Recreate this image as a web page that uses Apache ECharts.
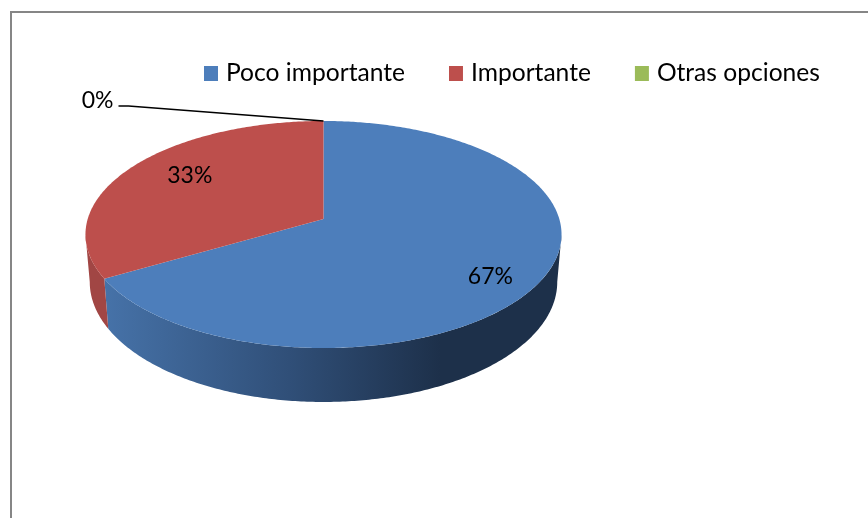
<!DOCTYPE html>
<html>
<head>
<meta charset="utf-8">
<style>html,body{margin:0;padding:0;background:#fff}#c{width:868px;height:518px}</style>
<script src="https://cdn.jsdelivr.net/npm/echarts@6/dist/echarts.min.js"></script>
</head>
<body>
<div id="c"></div>
<script>
var categories = ['Poco importante', 'Importante', 'Otras opciones'];
var values = [66.67, 33.33, 0];
var labels = ['67%', '33%', '0%'];
var colors = ['#4d7ebb', '#bd4f4c', '#9bbb59'];

var FONT = 'Lato';
var CX = 323.5, CY = 219, RX = 235.8, RY = 111.4, K = 0.1365, DEPTH = 46.6, SHRINK = 0.982;
var total = values.reduce(function (a, b) { return a + b; }, 0);
var EXTREME = Math.acos(-K);                 // silhouette angle of the ellipse

function startOf(i) {
  var s = 0;
  for (var j = 0; j < i; j++) s += values[j];
  return s / total * Math.PI * 2;
}
function top3d(t, r) {
  var u = Math.sin(t) * r, v = Math.cos(t) * r, w = 1 + K * v;
  return [CX + RX * u / w, CY - RY * v / w];
}
function low3d(t) {
  var u = Math.sin(t), v = Math.cos(t), w = 1 + K * v;
  return [CX + RX * SHRINK * u / w, CY - RY * v / w + DEPTH / w];
}
function arc(fn, a, b) {
  var pts = [], n = Math.max(2, Math.ceil(Math.abs(b - a) * 90));
  for (var i = 0; i <= n; i++) pts.push(fn(a + (b - a) * i / n, 1));
  return pts;
}
var sideFill = [
  { type: 'linear', x: 105, y: 0, x2: 440, y2: 0, global: true, colorStops: [
    { offset: 0, color: '#4672a8' }, { offset: 0.55, color: '#304f78' }, { offset: 1, color: '#1d304a' }] },
  '#a14644', '#7e9a46'
];
var labelOffset = [[5.5, 14], [12, -4]];

function renderSlice(params, api) {
  var i = params.seriesIndex;
  var val = api.value(0);
  var a = startOf(i), b = a + val / total * Math.PI * 2;
  var children = [];
  if (val > 0) {
    // visible wall = part of the slice on the front side of the silhouette
    var sa = Math.max(a, EXTREME), sb = Math.min(b, Math.PI * 2 - EXTREME);
    if (sb > sa) {
      children.push({ type: 'polygon', silent: true,
        shape: { points: arc(top3d, sa, sb).concat(arc(low3d, sb, sa)) },
        style: { fill: sideFill[i] } });
    }
    children.push({ type: 'polygon', silent: true,
      shape: { points: [[CX, CY]].concat(arc(top3d, a, b)) },
      style: { fill: colors[i] } });
    var p = top3d((a + b) / 2, 0.75), off = labelOffset[i];
    children.push({ type: 'text', z2: 10, silent: true, style: {
      x: p[0] + off[0], y: p[1] + off[1], text: labels[i], fill: '#000',
      font: '23px ' + FONT, align: 'center', verticalAlign: 'middle' } });
  } else {
    // zero share: leader line from the rim to the label
    var q = top3d(a, 1);
    children.push({ type: 'polyline', silent: true, z2: 10,
      shape: { points: [[q[0], q[1]], [q[0] - 195, q[1] - 15], [q[0] - 205, q[1] - 15]] },
      style: { stroke: '#000', lineWidth: 1.5, fill: null } });
    children.push({ type: 'text', z2: 10, silent: true, style: {
      x: q[0] - 210, y: q[1] - 20, text: labels[i], fill: '#000',
      font: '23px ' + FONT, align: 'right', verticalAlign: 'middle' } });
  }
  return { type: 'group', children: children };
}

var chart = echarts.init(document.getElementById('c'), null, { renderer: 'canvas' });
chart.setOption({
  animation: false,
  backgroundColor: '#fff',
  legend: {
    left: 199, top: 56, orient: 'horizontal', itemGap: 44, itemWidth: 14, itemHeight: 15,
    icon: 'rect', selectedMode: false,
    data: categories,
    textStyle: { fontFamily: FONT, fontSize: 24.6, color: '#000', padding: [0, 0, 0, 3] }
  },
  graphic: [{ type: 'rect', silent: true, z: -1,
    shape: { x: 11, y: 12, width: 1000, height: 1000 },
    style: { fill: null, stroke: '#868686', lineWidth: 2 } }],
  series: categories.map(function (name, i) {
    return { type: 'custom', name: name, coordinateSystem: 'none', silent: true, z: 2 + i,
      itemStyle: { color: colors[i] }, renderItem: renderSlice, data: [[values[i]]] };
  })
});
</script>
</body>
</html>
